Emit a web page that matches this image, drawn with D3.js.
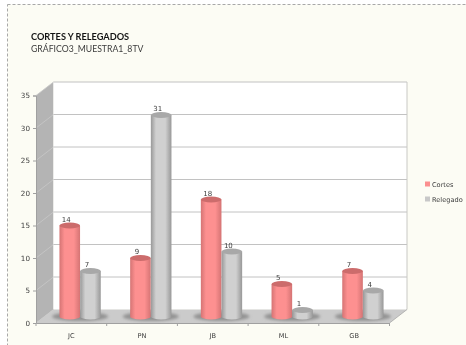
<!DOCTYPE html>
<html>
<head>
<meta charset="utf-8">
<script src="https://cdn.jsdelivr.net/npm/d3@7"></script>
<style>
  html, body { margin: 0; padding: 0; background: #fff; overflow: hidden; }
  svg { display: block; }
  text { font-family: "DejaVu Sans", sans-serif; fill: #3a3a3a; opacity: 0.99; }
</style>
</head>
<body>
<div id="chart"></div>
<script>
const categories = ['JC', 'PN', 'JB', 'ML', 'GB']
const seriesNames = ['Cortes', 'Relegado']
const cortes = [14, 9, 18, 5, 7]
const relegado = [7, 31, 10, 1, 4]
const yTicks = [0, 5, 10, 15, 20, 25, 30, 35]

const chartWidth = 466
const chartHeight = 345
// front edge of the box, the walls sit behind it by depth
const boxLeft = 36
const boxRight = 389.5
const boxBottom = 323
const boxTop = 95.5
const depthX = 17.5
const depthY = 13.5
const barDrop = 6.5
const barRx = 10.3
const barRy = 3

const x = d3.scaleBand().domain(categories).range([boxLeft, boxRight])
const xSeries = d3.scaleBand().domain(seriesNames).range([-20.7, 20.7])
const y = d3.scaleLinear().domain([0, 35]).range([boxBottom, boxTop])
const color = { Cortes: '#fb8f8f', Relegado: '#c8c8c8' }

const svg = d3.select('#chart').append('svg')
  .attr('width', chartWidth)
  .attr('height', chartHeight)

const defs = svg.append('defs')

function barGradient (id, edge, mid) {
  const g = defs.append('linearGradient').attr('id', id)
  g.append('stop').attr('offset', '0%').attr('stop-color', edge)
  g.append('stop').attr('offset', '25%').attr('stop-color', mid)
  g.append('stop').attr('offset', '70%').attr('stop-color', mid)
  g.append('stop').attr('offset', '100%').attr('stop-color', edge)
}
barGradient('grad-Cortes', '#d57474', '#fd9090')
barGradient('grad-Relegado', '#989898', '#d0d0d0')

defs.append('filter').attr('id', 'soft')
  .attr('x', '-30%').attr('y', '-100%').attr('width', '160%').attr('height', '300%')
  .append('feGaussianBlur').attr('stdDeviation', 1.8)

// background with dashed frame
svg.append('rect')
  .attr('x', 7.5).attr('y', 4.5)
  .attr('width', chartWidth).attr('height', chartHeight)
  .attr('fill', '#fcfcf4')
  .attr('stroke', '#a8a8a8')
  .attr('stroke-dasharray', '3,2')

// title
svg.append('text').attr('x', 31).attr('y', 40)
  .style('font-family', 'Lato, sans-serif')
  .style('font-weight', 700)
  .style('font-size', '9.2px')
  .style('fill', '#111')
  .text('CORTES Y RELEGADOS')
svg.append('text').attr('x', 31).attr('y', 51.5)
  .style('font-family', 'Lato, sans-serif')
  .style('font-size', '8.7px')
  .text('GRÁFICO3_MUESTRA1_8TV')

// walls and floor
const wall = [[boxLeft, y(35)], [boxLeft + depthX, y(35) - depthY], [boxLeft + depthX, y(0) - depthY], [boxLeft, y(0)]]
svg.append('polygon').attr('points', wall.join(' ')).attr('fill', '#b4b4b4')

svg.append('rect')
  .attr('x', boxLeft + depthX).attr('y', y(35) - depthY)
  .attr('width', boxRight - boxLeft).attr('height', y(0) - y(35))
  .attr('fill', '#fff')

const floor = [[boxLeft, y(0)], [boxLeft + depthX, y(0) - depthY], [boxRight + depthX, y(0) - depthY], [boxRight, y(0)]]
svg.append('polygon').attr('points', floor.join(' ')).attr('fill', '#cbcbcb')

// gridlines
const grid = svg.append('g').attr('fill', 'none')
grid.selectAll('.back').data(yTicks.slice(1)).enter().append('line')
  .attr('x1', boxLeft + depthX).attr('x2', boxRight + depthX)
  .attr('y1', d => y(d) - depthY).attr('y2', d => y(d) - depthY)
  .attr('stroke', '#c2c2c2').attr('stroke-width', 1)
grid.selectAll('.side').data(yTicks).enter().append('line')
  .attr('x1', boxLeft).attr('x2', boxLeft + depthX)
  .attr('y1', d => y(d)).attr('y2', d => y(d) - depthY)
  .attr('stroke', '#c8c8c8').attr('stroke-width', 0.8)
grid.append('line')
  .attr('x1', boxRight + depthX).attr('x2', boxRight + depthX)
  .attr('y1', y(35) - depthY).attr('y2', y(0) - depthY)
  .attr('stroke', '#c8c8c4')
grid.append('polyline')
  .attr('points', [[boxRight, y(0)], [boxRight + depthX, y(0) - depthY]].join(' '))
  .attr('stroke', '#a8a8a8').attr('stroke-width', 0.8)

// axes
const yAxis = d3.axisLeft(y).tickValues(yTicks).tickSize(3).tickPadding(3)
const gy = svg.append('g').attr('transform', `translate(${boxLeft},0)`).call(yAxis)
gy.select('.domain').attr('stroke', '#a0a0a0')
gy.selectAll('line').attr('stroke', '#a0a0a0')
gy.selectAll('text').style('font-size', '7.2px').style('font-family', '"DejaVu Sans", sans-serif').style('fill', '#3a3a3a')

const gx = svg.append('g').attr('transform', `translate(0,${boxBottom})`)
  .call(d3.axisBottom(x).tickSize(0).tickPadding(10))
gx.select('.domain').attr('stroke', '#a0a0a0')
gx.selectAll('text').style('font-size', '6.6px').style('font-family', '"DejaVu Sans", sans-serif').style('fill', '#3a3a3a')
gx.selectAll('.sep').data(d3.range(categories.length + 1)).enter().append('line')
  .attr('x1', i => boxLeft + i * x.step()).attr('x2', i => boxLeft + i * x.step())
  .attr('y1', 0).attr('y2', 3)
  .attr('stroke', '#a0a0a0')

// bars, one cylinder per value
const rows = categories.flatMap((c, i) => [
  { cat: c, name: seriesNames[0], value: cortes[i] },
  { cat: c, name: seriesNames[1], value: relegado[i] }
])
const cx = d => x(d.cat) + x.bandwidth() / 2 + xSeries(d.name) + xSeries.bandwidth() / 2 + depthX / 2
const topY = d => y(d.value) - barDrop
const baseY = y(0) - barDrop

svg.append('g').selectAll('ellipse').data(categories).enter().append('ellipse')
  .attr('cx', d => x(d) + x.bandwidth() / 2 + depthX / 2)
  .attr('cy', baseY)
  .attr('rx', 28)
  .attr('ry', 4.5)
  .attr('fill', '#929292')
  .attr('filter', 'url(#soft)')

// left bars go first so the grey one overlaps them
const bars = svg.append('g').selectAll('g').data(rows).enter().append('g')
bars.append('path')
  .attr('d', d => {
    const x0 = cx(d) - barRx
    const x1 = cx(d) + barRx
    return `M${x0},${topY(d)}L${x0},${baseY}A${barRx},${barRy} 0 0 0 ${x1},${baseY}L${x1},${topY(d)}Z`
  })
  .attr('fill', d => `url(#grad-${d.name})`)
bars.append('ellipse')
  .attr('cx', cx)
  .attr('cy', topY)
  .attr('rx', barRx)
  .attr('ry', barRy)
  .attr('fill', d => d.name === 'Cortes' ? '#cc6c6c' : '#a8a8a8')

svg.append('g').selectAll('text').data(rows).enter().append('text')
  .attr('x', d => cx(d) - 3.5)
  .attr('y', d => topY(d) - 4)
  .attr('text-anchor', 'middle')
  .style('font-size', '7px')
  .text(d => d.value)

// legend
const legend = svg.append('g').selectAll('g').data(seriesNames).enter().append('g')
  .attr('transform', (d, i) => `translate(425,${181.5 + i * 15})`)
legend.append('rect').attr('width', 5).attr('height', 5).attr('fill', d => color[d])
legend.append('text').attr('x', 7).attr('y', 5.5)
  .style('font-size', '6.6px')
  .text(d => d)
</script>
</body>
</html>
